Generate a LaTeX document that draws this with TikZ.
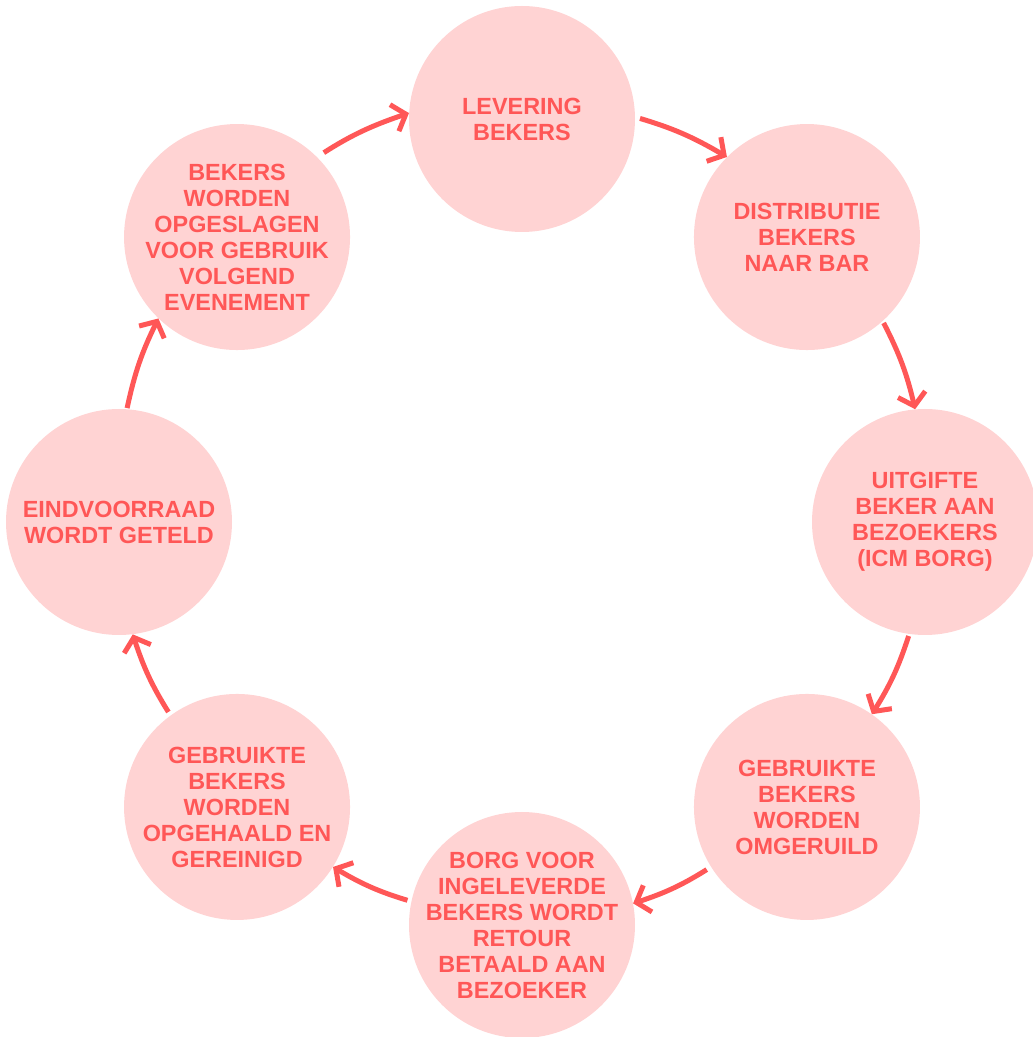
\documentclass[tikz,border=0pt]{standalone}
\usepackage{fontspec}
\setmainfont{Liberation Sans}
\usetikzlibrary{arrows.meta,calc}
\definecolor{pinkfill}{HTML}{FFD3D3}
\definecolor{redtxt}{HTML}{FF5757}
\begin{document}
\begin{tikzpicture}[x=1pt,y=1pt,
  stepcircle/.style={circle, fill=pinkfill, draw=none, minimum size=226pt, inner sep=0pt},
  steptext/.style={text=redtxt, align=center, inner sep=0pt,
    font=\fontsize{23.4}{26}\selectfont\bfseries},
  flow/.style={draw=redtxt, line width=5pt,
    -{Straight Barb[length=12pt,width=28pt,line width=5pt]}}
]
\useasboundingbox (0,0) rectangle (1033,1037);
\coordinate (c) at (522,515);
\node[stepcircle, label={[steptext]center:{LEVERING\\BEKERS}}] (n1) at ($(c)+(90:403)$) {};
\node[stepcircle, label={[steptext]center:{DISTRIBUTIE\\BEKERS\\NAAR BAR}}] (n2) at ($(c)+(45:403)$) {};
\node[stepcircle, label={[steptext]center:{UITGIFTE\\BEKER AAN\\BEZOEKERS\\(ICM BORG)}}] (n3) at ($(c)+(0:403)$) {};
\node[stepcircle, label={[steptext]center:{GEBRUIKTE\\BEKERS\\WORDEN\\OMGERUILD}}] (n4) at ($(c)+(-45:403)$) {};
\node[stepcircle, label={[steptext]center:{BORG VOOR\\INGELEVERDE\\BEKERS WORDT\\RETOUR\\BETAALD AAN\\BEZOEKER}}] (n5) at ($(c)+(-90:403)$) {};
\node[stepcircle, label={[steptext]center:{GEBRUIKTE\\BEKERS\\WORDEN\\OPGEHAALD EN\\GEREINIGD}}] (n6) at ($(c)+(-135:403)$) {};
\node[stepcircle, label={[steptext]center:{EINDVOORRAAD\\WORDT GETELD}}] (n7) at ($(c)+(180:403)$) {};
\node[stepcircle, label={[steptext]center:{BEKERS\\WORDEN\\OPGESLAGEN\\VOOR GEBRUIK\\VOLGEND\\EVENEMENT}}] (n8) at ($(c)+(135:403)$) {};
\draw[flow, shorten <=8pt] (n8.45) to[bend left=7] (n1.177.4);
\draw[flow, shorten <=5pt] (n1.1) to[bend left=7] (n2.135.7);
\draw[flow, shorten <=2pt] (n2.-48.5) to[bend left=7] (n3.95);
\draw[flow, shorten <=2pt] (n3.-98.4) to[bend left=7] (n4.55.6);
\draw[flow, shorten <=5pt] (n4.-148) to[bend left=7] (n5.11.5);
\draw[flow, shorten <=4pt] (n5.168.7) to[bend left=7] (n6.-32.9);
\draw[flow, shorten <=4pt] (n6.126) to[bend left=7] (n7.-83.8);
\draw[flow, shorten <=1pt] (n7.86.5) to[bend left=7] (n8.226.4);
\end{tikzpicture}
\end{document}
